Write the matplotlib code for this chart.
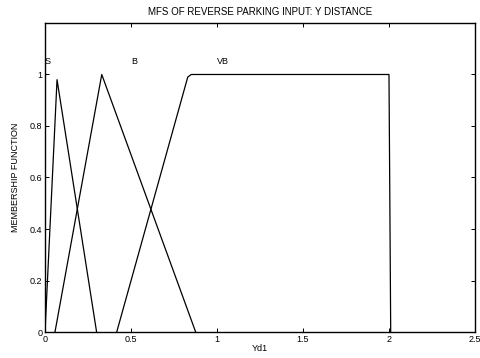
import matplotlib
matplotlib.use("Agg")
import matplotlib.pyplot as plt

# Membership functions for the Y distance input (breakpoints, membership values)
s_x = [0.0, 0.07, 0.30]
s_y = [0.0, 0.98, 0.0]
b_x = [0.058, 0.33, 0.876]
b_y = [0.0, 1.0, 0.0]
vb_x = [0.417, 0.83, 0.85, 2.0, 2.01]
vb_y = [0.0, 0.99, 1.0, 1.0, 0.0]

labels = ["S", "B", "VB"]
label_x = [0.0, 0.5, 1.0]
label_y = 1.05

xticks = [0, 0.5, 1, 1.5, 2, 2.5]
xtick_labels = ["0", "0.5", "1", "1.5", "2", "2.5"]
yticks = [0, 0.2, 0.4, 0.6, 0.8, 1]
ytick_labels = ["0", "0.2", "0.4", "0.6", "0.8", "1"]

plt.rcParams["font.family"] = ["Liberation Sans", "DejaVu Sans"]
fs = 6.5

fig = plt.figure(figsize=(4.8, 3.58), dpi=100)
ax = fig.add_axes([0.09375, 0.0726, 0.8958, 0.8632])

for xs, ys in [(s_x, s_y), (b_x, b_y), (vb_x, vb_y)]:
    ax.plot(xs, ys, color="black", lw=0.9)

for lab, lx in zip(labels, label_x):
    ax.text(lx, label_y, lab, fontsize=fs, ha="left", va="center")

ax.set_xlim(0, 2.5)
ax.set_ylim(0, 1.2)
ax.set_xticks(xticks)
ax.set_xticklabels(xtick_labels)
ax.set_yticks(yticks)
ax.set_yticklabels(ytick_labels)
ax.tick_params(direction="in", top=True, right=True, labelsize=fs,
               length=3, width=0.7, pad=2)
for sp in ax.spines.values():
    sp.set_linewidth(1.0)

ax.set_title("MFS OF REVERSE PARKING INPUT: Y DISTANCE", fontsize=7, pad=6)
ax.set_xlabel("Yd1", fontsize=fs, labelpad=0)
ax.set_ylabel("MEMBERSHIP FUNCTION", fontsize=fs, labelpad=7)

fig.savefig("out.png", dpi=100)
